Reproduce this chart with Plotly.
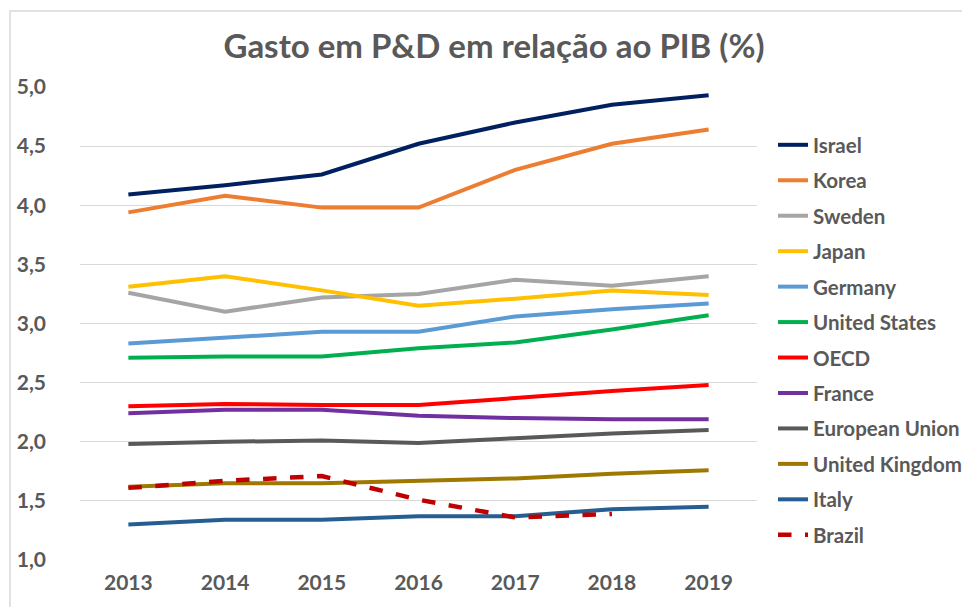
import plotly.graph_objects as go

years = ["2013", "2014", "2015", "2016", "2017", "2018", "2019"]

israel = [4.09, 4.17, 4.26, 4.52, 4.70, 4.85, 4.93]
korea = [3.94, 4.08, 3.98, 3.98, 4.30, 4.52, 4.64]
sweden = [3.26, 3.10, 3.22, 3.25, 3.37, 3.32, 3.40]
japan = [3.31, 3.40, 3.28, 3.15, 3.21, 3.28, 3.24]
germany = [2.83, 2.88, 2.93, 2.93, 3.06, 3.12, 3.17]
united_states = [2.71, 2.72, 2.72, 2.79, 2.84, 2.95, 3.07]
oecd = [2.30, 2.32, 2.31, 2.31, 2.37, 2.43, 2.48]
france = [2.24, 2.27, 2.27, 2.22, 2.20, 2.19, 2.19]
european_union = [1.98, 2.00, 2.01, 1.99, 2.03, 2.07, 2.10]
united_kingdom = [1.62, 1.65, 1.65, 1.67, 1.69, 1.73, 1.76]
italy = [1.30, 1.34, 1.34, 1.37, 1.37, 1.43, 1.45]
brazil = [1.61, 1.67, 1.71, 1.51, 1.36, 1.39, None]

series = [
    ("Israel", israel, "#002060", "solid"),
    ("Korea", korea, "#ED7D31", "solid"),
    ("Sweden", sweden, "#A5A5A5", "solid"),
    ("Japan", japan, "#FFC000", "solid"),
    ("Germany", germany, "#5B9BD5", "solid"),
    ("United States", united_states, "#00B050", "solid"),
    ("OECD", oecd, "#FF0000", "solid"),
    ("France", france, "#7030A0", "solid"),
    ("European Union", european_union, "#595959", "solid"),
    ("United Kingdom", united_kingdom, "#9E7800", "solid"),
    ("Italy", italy, "#255E91", "solid"),
    ("Brazil", brazil, "#C00000", "dash"),
]

FONT = "Lato, 'Open Sans', sans-serif"
TEXT_GRAY = "#595959"

# the page body keeps its default 8px margin, so the figure is sized to fit
W, H = 962, 599

fig = go.Figure()
for name, values, color, dash in series:
    fig.add_trace(
        go.Scatter(
            x=years,
            y=values,
            name=name,
            legendgroup=name,
            mode="lines",
            line=dict(color=color, width=4 if dash == "solid" else 4.5, dash=dash),
        )
    )

fig.update_layout(
    width=W,
    height=H,
    margin=dict(l=72, r=213, t=79, b=47, autoexpand=False),
    paper_bgcolor="white",
    plot_bgcolor="white",
    separators=",.",
    font=dict(family=FONT, color=TEXT_GRAY),
    title=dict(
        text="<b>Gasto em P&D em relação ao PIB (%)</b>",
        x=486 / W,
        xanchor="center",
        y=1 - 38 / H,
        yanchor="middle",
        font=dict(size=33, color=TEXT_GRAY, family=FONT),
    ),
    xaxis=dict(
        type="category",
        range=[-0.5, 6.5],
        automargin=False,
        showgrid=False,
        showline=False,
        zeroline=False,
        tickfont=dict(size=21, color=TEXT_GRAY, family=FONT, weight="bold"),
        ticklabelstandoff=8,
    ),
    yaxis=dict(
        range=[1, 5],
        dtick=0.5,
        tickformat=".1f",
        automargin=False,
        showgrid=True,
        gridcolor="#D9D9D9",
        gridwidth=1,
        zeroline=False,
        showline=False,
        tickfont=dict(size=21, color=TEXT_GRAY, family=FONT, weight="bold"),
        ticklabelstandoff=33,
    ),
    legend=dict(
        xref="container",
        yref="container",
        x=765 / W,
        y=1 - 117 / H,
        xanchor="left",
        yanchor="top",
        tracegroupgap=5.8,
        maxheight=600,
        font=dict(size=20.5, color=TEXT_GRAY, family=FONT, weight="bold"),
        bgcolor="rgba(0,0,0,0)",
    ),
    showlegend=True,
)

# light chart-area frame, as in the spreadsheet export
fig.add_shape(
    type="rect",
    xref="paper",
    yref="paper",
    x0=-70 / 677,
    x1=1.5,
    y0=-0.5,
    y1=1 + 76 / 473,
    line=dict(color="#D9D9D9", width=1.5),
    layer="below",
)

fig.write_html("out.html")
